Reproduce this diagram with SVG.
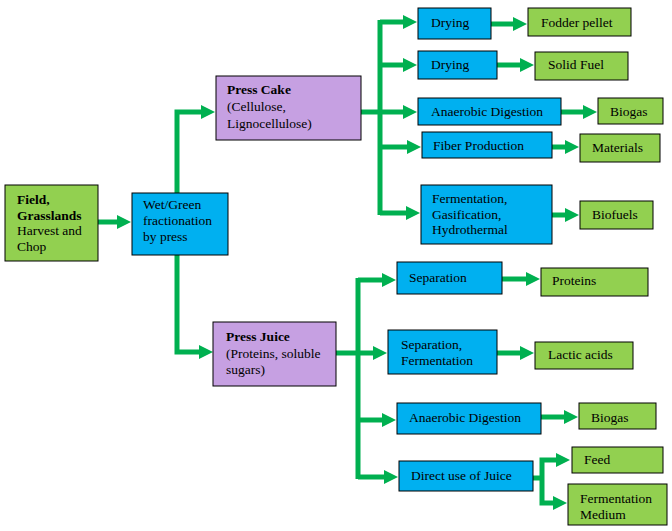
<svg xmlns="http://www.w3.org/2000/svg" width="672" height="531" viewBox="0 0 672 531" font-family="Liberation Serif, Times New Roman, serif" font-size="13.5">
<style>
rect{stroke:#000;stroke-width:1}
.g{fill:#92d050}.b{fill:#00b0f0}.p{fill:#c6a0e2}
.bd{font-weight:bold}
.c path{fill:none;stroke:#00b050;stroke-width:5;stroke-linejoin:miter}
.c path.a{marker-end:url(#ah)}
</style>
<defs>
<marker id="ah" markerUnits="userSpaceOnUse" markerWidth="15" markerHeight="14" refX="4" refY="7" orient="auto">
<path d="M0,0 L14,7 L0,14 z" fill="#00b050"/>
</marker>
</defs>
<rect width="672" height="531" fill="#fff" style="stroke:none"/>
<g class="c" id="connectors">
<path class="a" d="M98,222 H121"/>
<path class="a" d="M177,193 V112 H205"/>
<path class="a" d="M177,255 V352 H203"/>
<path d="M361,112 H380"/>
<path d="M380,20 V215"/>
<path class="a" d="M380,22 H407"/>
<path class="a" d="M380,65 H407"/>
<path class="a" d="M380,112 H407"/>
<path class="a" d="M380,147 H411"/>
<path class="a" d="M380,213 H410"/>
<path class="a" d="M491,24 H517"/>
<path class="a" d="M497,65 H524"/>
<path class="a" d="M561,112 H587"/>
<path class="a" d="M552,147 H569"/>
<path class="a" d="M552,215 H569"/>
<path d="M336,353 H358"/>
<path d="M358,278 V479"/>
<path class="a" d="M358,280 H386"/>
<path class="a" d="M358,353 H377"/>
<path class="a" d="M358,420 H386"/>
<path class="a" d="M358,477 H388"/>
<path class="a" d="M502,279 H530"/>
<path class="a" d="M497,353 H524"/>
<path class="a" d="M541,417 H568"/>
<path d="M533,478 H542"/>
<path class="a" d="M542,478 V460 H560"/>
<path class="a" d="M542,478 V503 H557"/>
</g>
<g id="field"><rect class="g" x="5" y="185" width="93" height="76"/>
<text x="17" y="204" class="bd">Field,</text><text x="17" y="220" class="bd">Grasslands</text><text x="17" y="235">Harvest and</text><text x="17" y="251">Chop</text></g>
<g id="wet"><rect class="b" x="132" y="193" width="96" height="62"/>
<text x="143" y="209">Wet/Green</text><text x="143" y="225">fractionation</text><text x="143" y="241">by press</text></g>
<g id="presscake"><rect class="p" x="216" y="76" width="145" height="64"/>
<text x="227" y="94" class="bd">Press Cake</text><text x="227" y="111">(Cellulose,</text><text x="227" y="128">Lignocellulose)</text></g>
<g id="drying1"><rect class="b" x="418" y="8" width="73" height="31"/><text x="431" y="27">Drying</text></g>
<g id="fodder"><rect class="g" x="528" y="8" width="103" height="28"/><text x="541" y="27">Fodder pellet</text></g>
<g id="drying2"><rect class="b" x="418" y="51" width="79" height="28"/><text x="431" y="69">Drying</text></g>
<g id="solidfuel"><rect class="g" x="535" y="52" width="93" height="28"/><text x="548" y="69">Solid Fuel</text></g>
<g id="anaerobic1"><rect class="b" x="418" y="98" width="143" height="27"/><text x="431" y="116">Anaerobic Digestion</text></g>
<g id="biogas1"><rect class="g" x="598" y="98" width="65" height="26"/><text x="610" y="116">Biogas</text></g>
<g id="fiber"><rect class="b" x="422" y="132" width="130" height="26"/><text x="433" y="150">Fiber Production</text></g>
<g id="materials"><rect class="g" x="580" y="134" width="80" height="28"/><text x="592" y="152">Materials</text></g>
<g id="fermentation"><rect class="b" x="421" y="185" width="131" height="59"/>
<text x="432" y="203">Fermentation,</text><text x="432" y="219">Gasification,</text><text x="432" y="234">Hydrothermal</text></g>
<g id="biofuels"><rect class="g" x="580" y="201" width="73" height="28"/><text x="592" y="219">Biofuels</text></g>
<g id="pressjuice"><rect class="p" x="213" y="322" width="123" height="64"/>
<text x="226" y="341" class="bd">Press Juice</text><text x="226" y="358">(Proteins, soluble</text><text x="226" y="374">sugars)</text></g>
<g id="separation"><rect class="b" x="397" y="262" width="105" height="32"/><text x="409" y="282">Separation</text></g>
<g id="proteins"><rect class="g" x="541" y="268" width="107" height="28"/><text x="552" y="285">Proteins</text></g>
<g id="sepferm"><rect class="b" x="388" y="330" width="109" height="44"/><text x="401" y="349">Separation,</text><text x="401" y="365">Fermentation</text></g>
<g id="lactic"><rect class="g" x="535" y="342" width="98" height="27"/><text x="548" y="359">Lactic acids</text></g>
<g id="anaerobic2"><rect class="b" x="397" y="403" width="144" height="31"/><text x="409" y="422">Anaerobic Digestion</text></g>
<g id="biogas2"><rect class="g" x="579" y="403" width="77" height="26"/><text x="591" y="422">Biogas</text></g>
<g id="direct"><rect class="b" x="399" y="461" width="134" height="30"/><text x="411" y="480">Direct use of Juice</text></g>
<g id="feed"><rect class="g" x="572" y="447" width="91" height="26"/><text x="584" y="464">Feed</text></g>
<g id="fermmedium"><rect class="g" x="568" y="484" width="99" height="41"/><text x="580" y="503">Fermentation</text><text x="580" y="519">Medium</text></g>
</svg>
